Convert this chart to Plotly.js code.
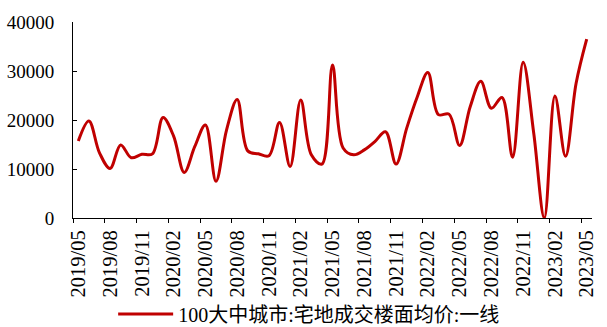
<!DOCTYPE html>
<html>
<head>
<meta charset="utf-8">
<script src="https://cdn.plot.ly/plotly-3.0.1.min.js"></script>
<style>html,body{margin:0;padding:0;background:#fff;}#chart{width:607px;height:327px;}</style>
</head>
<body>
<div id="chart"></div>
<script>
const months = [
  "2019/05","2019/06","2019/07","2019/08","2019/09","2019/10","2019/11","2019/12",
  "2020/01","2020/02","2020/03","2020/04","2020/05","2020/06","2020/07","2020/08","2020/09","2020/10","2020/11","2020/12",
  "2021/01","2021/02","2021/03","2021/04","2021/05","2021/06","2021/07","2021/08","2021/09","2021/10","2021/11","2021/12",
  "2022/01","2022/02","2022/03","2022/04","2022/05","2022/06","2022/07","2022/08","2022/09","2022/10","2022/11","2022/12",
  "2023/01","2023/02","2023/03","2023/04","2023/05"
];
const priceTier1 = [
  15700, 19800, 13300, 10100, 14900, 12300, 13000, 13100,
  20500, 16700, 9300, 14600, 19000, 7500, 18000, 24200, 13700, 13100, 12700, 19500,
  10500, 24100, 12900, 11000, 31200, 14300, 12900, 13900, 15600, 17600, 11000, 18300,
  24700, 29700, 21100, 21200, 14800, 22700, 27900, 22400, 24600, 12400, 31800, 17300,
  0, 24900, 12600, 27500, 36500
];
const seriesName = "100大中城市:宅地成交楼面均价:一线";
const yTicks = [0, 10000, 20000, 30000, 40000];

const trace = {
  type: "scatter",
  mode: "lines",
  x: months,
  y: priceTier1,
  name: seriesName,
  line: {color: "#C00000", width: 3, shape: "spline", smoothing: 1},
  showlegend: true
};

const layout = {
  width: 607,
  height: 327,
  margin: {l: 73, r: 15, t: 22, b: 109, autoexpand: false},
  paper_bgcolor: "#ffffff",
  plot_bgcolor: "#ffffff",
  font: {family: "Liberation Serif", color: "#000"},
  xaxis: {
    type: "category",
    range: [-0.5, 48.5],
    tickmode: "linear",
    tick0: 0,
    dtick: 3,
    tickson: "boundaries",
    ticks: "outside",
    ticklen: 4,
    tickcolor: "#000",
    tickangle: -90,
    ticklabelstandoff: 3,
    tickfont: {size: 20.5, family: "Liberation Serif", color: "#000"},
    showline: true,
    linecolor: "#000",
    linewidth: 1,
    showgrid: false,
    zeroline: false,
    automargin: false,
    fixedrange: true
  },
  yaxis: {
    range: [0, 40000],
    tickvals: yTicks,
    ticktext: yTicks.map(String),
    ticks: "inside",
    ticklen: 4,
    tickcolor: "#000",
    tickfont: {size: 19, family: "Liberation Serif", color: "#000"},
    ticklabelstandoff: 14,
    showline: true,
    linecolor: "#000",
    linewidth: 1,
    showgrid: false,
    zeroline: false,
    automargin: false,
    fixedrange: true
  },
  showlegend: true,
  legend: {
    orientation: "h",
    x: 0.455,
    xanchor: "center",
    y: -0.49,
    yanchor: "middle",
    itemwidth: 55,
    font: {size: 20, family: "Liberation Serif, Noto Sans CJK SC", color: "#000"},
    bgcolor: "rgba(0,0,0,0)"
  }
};

Plotly.newPlot("chart", [trace], layout, {displayModeBar: false, staticPlot: true});
</script>
</body>
</html>
